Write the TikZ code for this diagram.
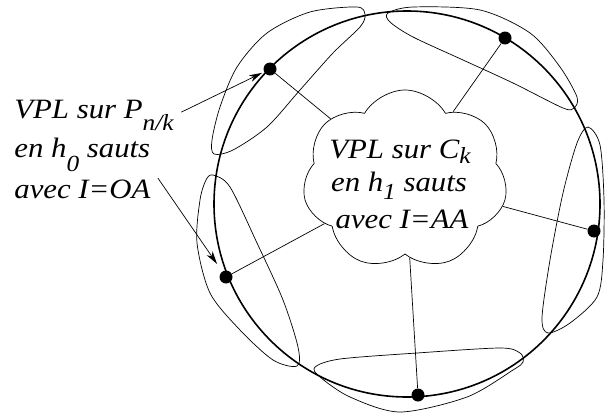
\documentclass[tikz,border=0pt]{standalone}
\usepackage{fontspec}
\setmainfont{Liberation Serif}
\newfontfamily\figfont[FakeStretch=1.1]{Liberation Serif}
\usepackage{tikz}
\usetikzlibrary{arrows.meta,shapes.symbols,positioning}
\tikzset{blackdot/.style={circle,fill,inner sep=0,minimum size=13pt},
    cloudy/.style={draw,cloud,cloud puffs=7,cloud puff arc=120,aspect=1.2,minimum width=205pt,minimum height=180pt,inner sep=0},
    labeltext/.style={font=\figfont\itshape\fontsize{28}{28}\selectfont,inner sep=1pt},
    arrowline/.style={-{Stealth[length=13pt,width=7pt,inset=4pt]}},
    bigring/.style={line width=1.6pt},
    lobeline/.style={line width=0.7pt}
}
% args: ([drop], index text)
\newcommand{\lowidx}[2][0.5em]{\raisebox{-#1}{\fontsize{23}{23}\selectfont #2}}

\begin{document}
\begin{tikzpicture}[x=1pt,y=-1pt,line width=0.7pt]
\useasboundingbox (0,0) rectangle (605,415);

\draw [bigring] (407,204) circle [radius=193];

% lobes
\draw [lobeline] plot [smooth cycle] coordinates {(365,15) (357,7) (310,12) (267,33) (237,67) (220,107) (212,140) (214,154) (233,150) (267,127) (300,90) (333,53) (360,27)};
\draw [lobeline] plot [smooth cycle] coordinates {(388,13) (413,7) (480,10) (530,33) (560,67) (577,97) (574,108) (563,108) (513,83) (463,60) (413,37) (390,22)};
\draw [lobeline] plot [smooth cycle] coordinates {(588,127) (600,145) (604,200) (603,260) (597,297) (570,323) (548,333) (542,318) (550,260) (563,193) (577,143)};
\draw [lobeline] plot [smooth cycle] coordinates {(315,367) (340,359) (417,353) (500,348) (520,353) (523,362) (513,370) (467,397) (400,412) (350,397) (320,377)};
\draw [lobeline] plot [smooth cycle] coordinates {(213,175) (230,187) (257,243) (283,300) (298,347) (297,366) (273,360) (240,330) (210,293) (197,243) (200,200) (206,180)};

\node [cloudy] (nuage) at (405,180) {};

\node [blackdot] (p1) at (270,69) {};
\node [blackdot] (p2) at (505,38) {};
\node [blackdot] (p3) at (594,231) {};
\node [blackdot] (p4) at (418,395) {};
\node [blackdot] (p5) at (226,277) {};

\foreach \p in {p1,p2,p3,p4,p5}
    \draw (\p) -- (nuage);

\node [labeltext,anchor=base] (c1) at (400,158) {VPL sur C\lowidx[0.2em]{k}};
\node [labeltext,anchor=base] (c2) at (399,191) {en h\lowidx[0.3em]{1} sauts};
\node [labeltext,anchor=base] (c3) at (402,228) {avec I=AA};

\node [labeltext,anchor=base west] (l1) at (13,118) {VPL sur P\lowidx[0.45em]{n/k}};
\node [labeltext,anchor=base west] (l2) at (13,157) {en h\lowidx[0.5em]{0} sauts};
\node [labeltext,anchor=base west] (l3) at (13,198) {avec I=OA};

\draw [arrowline,shorten <=7pt,shorten >=2pt] (l1.east) -- (p1);
\draw [arrowline,shorten >=9pt] ([xshift=6pt]l3.north east) -- (p5);

\end{tikzpicture}
\end{document}
